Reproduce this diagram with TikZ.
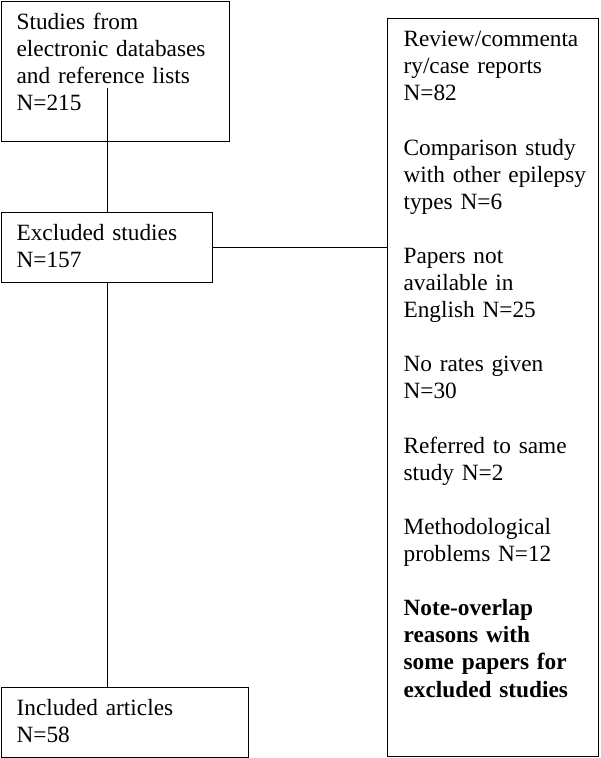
\documentclass[tikz,border=0pt]{standalone}
\usepackage{fontspec}
\setmainfont{Liberation Serif}
\usepackage{tikz}

\tikzset{
    box/.style={draw, line width=1.2pt, anchor=north west, align=left,
        inner xsep=15pt, inner ysep=0pt, text height=28pt,
        font=\fontsize{23.3}{27.1}\selectfont},
    link/.style={line width=1.2pt}
}

\begin{document}
\begin{tikzpicture}[x=1pt,y=1pt]
                \useasboundingbox (0,0) rectangle (600,-758);
                \node [box, text width=198pt, text depth=112pt] (found) at (1,-1)
                    {Studies from\\electronic databases\\and reference lists\\N=215};
                \node [box, text width=181pt, text depth=42pt] (excl) at (1,-212)
                    {Excluded studies\\N=157};
                \node [box, text width=217pt, text depth=42pt] (incl) at (1,-687)
                    {Included articles\\N=58};
                \node [box, inner xsep=16pt, text width=179pt, text depth=710pt] (why) at (387,-18)
                    {Review/commenta\\ry/case reports\\N=82\\[27.1pt]
                     Comparison study\\\mbox{with other epilepsy}\\types N=6\\[27.1pt]
                     Papers not\\available in\\English N=25\\[27.1pt]
                     No rates given\\N=30\\[27.1pt]
                     Referred to same\\study N=2\\[27.1pt]
                     Methodological\\problems N=12\\[27.1pt]
                     \textbf{Note-overlap}\\\textbf{reasons with}\\\textbf{some papers for}\\\textbf{excluded studies}};
                \coordinate (top) at (excl.north |- 0,-88);
                \draw [link] (top) -- (excl.north);
                \draw [link] (excl.south) -- (excl.south |- incl.north);
                \draw [link] (excl.east) -- (excl.east -| why.west);
            \end{tikzpicture}
\end{document}
